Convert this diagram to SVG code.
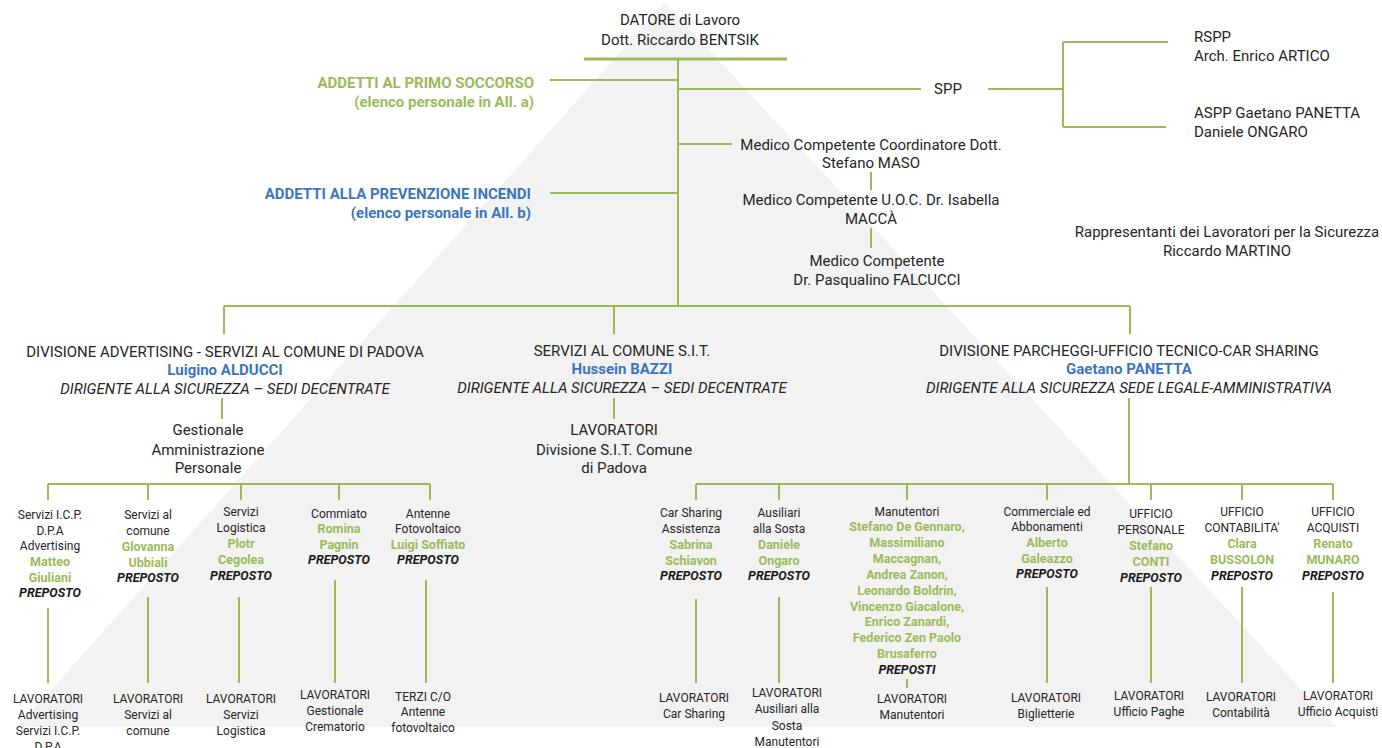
<svg xmlns="http://www.w3.org/2000/svg" width="1382" height="748" viewBox="0 0 1382 748">
<style>
.t{font-family:Roboto,"Liberation Sans",sans-serif;font-size:15px;fill:#262626;text-anchor:middle}
.s{font-size:12px}
.st{text-anchor:start}
.en{text-anchor:end}
.g{fill:#9bbb59;font-weight:bold}
.b{fill:#3b76bd;font-weight:bold}
.i{font-style:italic}
.p{font-style:italic;font-weight:bold;fill:#1a1a1a}
.s .g,.s .p{font-size:12.5px}
.c{stroke:#9bbb59;stroke-width:2;fill:none}
</style>
<rect width="1382" height="748" fill="#ffffff"/>
<polygon points="665,2 1336,727 18,727" fill="#f2f2f2"/>
<g id="connectors" class="c">
<path d="M584 59H787" stroke-width="3"/>
<path d="M678 59V306"/>
<path d="M550 80H678M550 193H678M678 89H921M988 89H1063M1063 42V127M1063 42H1168M1063 127H1166M678 144H732"/>
<path d="M871 172V190M871 228V248"/>
<path d="M224 306H1130M224 306V334M614 306V334M1130 306V334"/>
<path d="M222 398V419M614 398V419M1129 398V484"/>
<path d="M48 484H430M48 484V500M148 484V500M241 484V500M339 484V500M430 484V500"/>
<path d="M696 484H1333M696 484V500M779 484V500M907 484V500M1047 484V500M1151 484V500M1242 484V500M1333 484V500"/>
<path d="M48 608V683M148 597V683M239 597V683M335 580V683M426 580V683"/>
<path d="M696 599V683M779 597V683M907 679V688M1047 587V683M1151 587V683M1242 587V683M1333 592V683"/>
</g>
<g id="datore" class="t"><text x="680" y="25">DATORE di Lavoro</text><text x="680" y="45">Dott. Riccardo BENTSIK</text></g>
<g id="primo-soccorso" class="t en g"><text x="534" y="88">ADDETTI AL PRIMO SOCCORSO</text><text x="534" y="107">(elenco personale in All. a)</text></g>
<g id="prevenzione-incendi" class="t en b"><text x="531" y="199">ADDETTI ALLA PREVENZIONE INCENDI</text><text x="531" y="218">(elenco personale in All. b)</text></g>
<g id="spp" class="t"><text x="948" y="94">SPP</text></g>
<g id="rspp" class="t st"><text x="1194" y="42">RSPP</text><text x="1194" y="61">Arch. Enrico ARTICO</text></g>
<g id="aspp" class="t st"><text x="1194" y="118">ASPP Gaetano PANETTA</text><text x="1194" y="137">Daniele ONGARO</text></g>
<g id="medico1" class="t"><text x="871" y="150">Medico Competente Coordinatore Dott.</text><text x="871" y="168">Stefano MASO</text></g>
<g id="medico2" class="t"><text x="871" y="205">Medico Competente U.O.C. Dr. Isabella</text><text x="871" y="224">MACCÀ</text></g>
<g id="medico3" class="t"><text x="877" y="266">Medico Competente</text><text x="877" y="285">Dr. Pasqualino FALCUCCI</text></g>
<g id="rls" class="t"><text x="1227" y="237">Rappresentanti dei Lavoratori per la Sicurezza</text><text x="1227" y="256">Riccardo MARTINO</text></g>
<g id="div-advertising" class="t"><text x="225" y="357">DIVISIONE ADVERTISING - SERVIZI AL COMUNE DI PADOVA</text><text x="225" y="375" class="b">Luigino ALDUCCI</text><text x="225" y="394" class="i">DIRIGENTE ALLA SICUREZZA – SEDI DECENTRATE</text></g>
<g id="div-sit" class="t"><text x="622" y="356">SERVIZI AL COMUNE S.I.T.</text><text x="622" y="374" class="b">Hussein BAZZI</text><text x="622" y="393" class="i">DIRIGENTE ALLA SICUREZZA – SEDI DECENTRATE</text></g>
<g id="div-parcheggi" class="t"><text x="1129" y="356">DIVISIONE PARCHEGGI-UFFICIO TECNICO-CAR SHARING</text><text x="1129" y="374" class="b">Gaetano PANETTA</text><text x="1129" y="393" class="i">DIRIGENTE ALLA SICUREZZA SEDE LEGALE-AMMINISTRATIVA</text></g>
<g id="gestionale" class="t"><text x="208" y="435">Gestionale</text><text x="208" y="455">Amministrazione</text><text x="208" y="473">Personale</text></g>
<g id="lav-sit" class="t"><text x="614" y="435">LAVORATORI</text><text x="614" y="455">Divisione S.I.T. Comune</text><text x="614" y="473">di Padova</text></g>
<g id="icp" class="t s"><text x="50" y="519">Servizi I.C.P.</text><text x="50" y="535">D.P.A</text><text x="50" y="550">Advertising</text><text x="50" y="566" class="g">Matteo</text><text x="50" y="582" class="g">Giuliani</text><text x="50" y="597" class="p">PREPOSTO</text></g>
<g id="servizi-comune" class="t s"><text x="148" y="519">Servizi al</text><text x="148" y="535">comune</text><text x="148" y="551" class="g">Glovanna</text><text x="148" y="567" class="g">Ubbiali</text><text x="148" y="582" class="p">PREPOSTO</text></g>
<g id="logistica" class="t s"><text x="241" y="516">Servizi</text><text x="241" y="532">Logistica</text><text x="241" y="548" class="g">Plotr</text><text x="241" y="564" class="g">Cegolea</text><text x="241" y="580" class="p">PREPOSTO</text></g>
<g id="commiato" class="t s"><text x="339" y="518">Commiato</text><text x="339" y="533" class="g">Romina</text><text x="339" y="549" class="g">Pagnin</text><text x="339" y="564" class="p">PREPOSTO</text></g>
<g id="antenne" class="t s"><text x="428" y="518">Antenne</text><text x="428" y="533">Fotovoltaico</text><text x="428" y="549" class="g">Luigi Soffiato</text><text x="428" y="564" class="p">PREPOSTO</text></g>
<g id="lav-icp" class="t s"><text x="48" y="703">LAVORATORI</text><text x="48" y="719">Advertising</text><text x="48" y="735">Servizi I.C.P.</text><text x="48" y="751">D.P.A</text></g>
<g id="lav-comune" class="t s"><text x="148" y="703">LAVORATORI</text><text x="148" y="719">Servizi al</text><text x="148" y="735">comune</text></g>
<g id="lav-logistica" class="t s"><text x="241" y="703">LAVORATORI</text><text x="241" y="719">Servizi</text><text x="241" y="735">Logistica</text></g>
<g id="lav-crematorio" class="t s"><text x="335" y="699">LAVORATORI</text><text x="335" y="715">Gestionale</text><text x="335" y="731">Crematorio</text></g>
<g id="terzi" class="t s"><text x="423" y="701">TERZI C/O</text><text x="423" y="716">Antenne</text><text x="423" y="732">fotovoltaico</text></g>
<g id="car-sharing" class="t s"><text x="691" y="517">Car Sharing</text><text x="691" y="533">Assistenza</text><text x="691" y="549" class="g">Sabrina</text><text x="691" y="565" class="g">Schiavon</text><text x="691" y="580" class="p">PREPOSTO</text></g>
<g id="ausiliari" class="t s"><text x="779" y="517">Ausiliari</text><text x="779" y="533">alla Sosta</text><text x="779" y="549" class="g">Daniele</text><text x="779" y="565" class="g">Ongaro</text><text x="779" y="580" class="p">PREPOSTO</text></g>
<g id="manutentori" class="t s"><text x="907" y="516">Manutentori</text><text x="907" y="531" class="g">Stefano De Gennaro,</text><text x="907" y="547" class="g">Massimiliano</text><text x="907" y="563" class="g">Maccagnan,</text><text x="907" y="579" class="g">Andrea Zanon,</text><text x="907" y="595" class="g">Leonardo Boldrin,</text><text x="907" y="611" class="g">Vincenzo Giacalone,</text><text x="907" y="626" class="g">Enrico Zanardi,</text><text x="907" y="642" class="g">Federico Zen Paolo</text><text x="907" y="658" class="g">Brusaferro</text><text x="907" y="674" class="p">PREPOSTI</text></g>
<g id="commerciale" class="t s"><text x="1047" y="516">Commerciale ed</text><text x="1047" y="531">Abbonamenti</text><text x="1047" y="547" class="g">Alberto</text><text x="1047" y="563" class="g">Galeazzo</text><text x="1047" y="578" class="p">PREPOSTO</text></g>
<g id="uff-personale" class="t s"><text x="1151" y="518">UFFICIO</text><text x="1151" y="534">PERSONALE</text><text x="1151" y="550" class="g">Stefano</text><text x="1151" y="566" class="g">CONTI</text><text x="1151" y="582" class="p">PREPOSTO</text></g>
<g id="uff-contabilita" class="t s"><text x="1242" y="516">UFFICIO</text><text x="1242" y="532">CONTABILITA'</text><text x="1242" y="548" class="g">Clara</text><text x="1242" y="564" class="g">BUSSOLON</text><text x="1242" y="580" class="p">PREPOSTO</text></g>
<g id="uff-acquisti" class="t s"><text x="1333" y="516">UFFICIO</text><text x="1333" y="532">ACQUISTI</text><text x="1333" y="548" class="g">Renato</text><text x="1333" y="564" class="g">MUNARO</text><text x="1333" y="580" class="p">PREPOSTO</text></g>
<g id="lav-car-sharing" class="t s"><text x="694" y="702">LAVORATORI</text><text x="694" y="718">Car Sharing</text></g>
<g id="lav-ausiliari" class="t s"><text x="787" y="697">LAVORATORI</text><text x="787" y="713">Ausiliari alla</text><text x="787" y="730">Sosta</text><text x="787" y="746">Manutentori</text></g>
<g id="lav-manutentori" class="t s"><text x="912" y="703">LAVORATORI</text><text x="912" y="719">Manutentori</text></g>
<g id="lav-biglietterie" class="t s"><text x="1046" y="702">LAVORATORI</text><text x="1046" y="718">Biglietterie</text></g>
<g id="lav-paghe" class="t s"><text x="1149" y="700">LAVORATORI</text><text x="1149" y="716">Ufficio Paghe</text></g>
<g id="lav-contabilita" class="t s"><text x="1241" y="701">LAVORATORI</text><text x="1241" y="717">Contabilità</text></g>
<g id="lav-acquisti" class="t s"><text x="1338" y="700">LAVORATORI</text><text x="1338" y="716">Ufficio Acquisti</text></g>
</svg>
